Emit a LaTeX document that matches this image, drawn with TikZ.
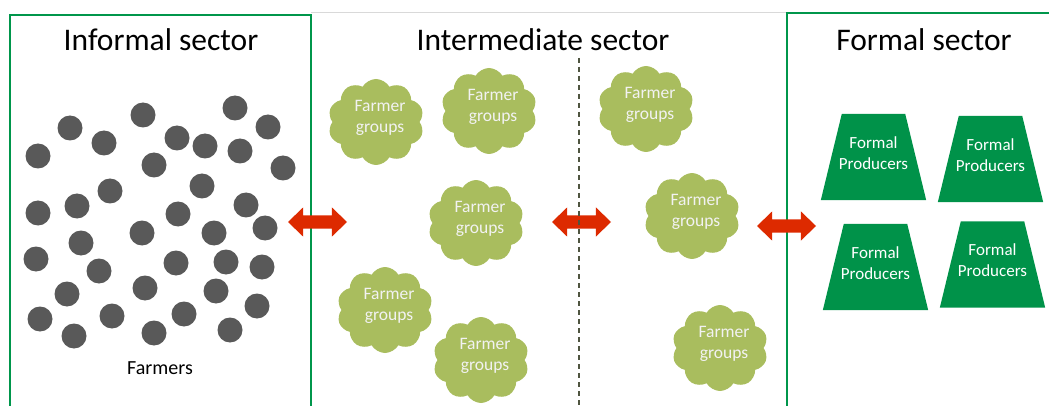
\documentclass[tikz,border=0pt]{standalone}
\usepackage{fontspec}
\setmainfont{Carlito}
\usetikzlibrary{shapes.symbols,shapes.arrows}
\definecolor{sectgreen}{HTML}{00964B}
\definecolor{prodgreen}{HTML}{009249}
\definecolor{cloudgreen}{HTML}{A9BD5E}
\definecolor{dotgray}{HTML}{595959}
\definecolor{arrowred}{HTML}{DD2A00}
\definecolor{dashgray}{HTML}{4F5540}
\definecolor{boxgray}{HTML}{D9D9D9}
\tikzset{
  title/.style={font=\fontsize{31.5}{38}\selectfont, text=black, inner sep=0pt, anchor=base},
  cloudbox/.style={cloud, cloud puffs=10, cloud puff arc=120, aspect=1.1, fill=cloudgreen, draw=none,
    minimum width=96pt, minimum height=86pt, inner sep=0pt},
  cloudtext/.style={font=\fontsize{17.5}{21.5}\selectfont, text=white!95!black, align=center, inner sep=0pt},
  prodbox/.style={minimum width=105pt, minimum height=86pt, inner sep=0pt},
  prodtext/.style={font=\fontsize{17}{21}\selectfont, text=white, align=center, inner sep=0pt},
  bigarrow/.style={double arrow, fill=arrowred, draw=none, inner xsep=0pt, inner ysep=6.5pt,
    minimum height=59pt, double arrow head extend=8pt, double arrow tip angle=88},
}
\begin{document}
\begin{tikzpicture}[x=1pt,y=-1pt]
\useasboundingbox (0,0) rectangle (1049,406);
% sector frames
\draw[boxgray, line width=1pt] (311,13) -- (787,13);
\draw[sectgreen, line width=2.8pt] (10,410) -- (10,15) -- (311,15) -- (311,410);
\draw[sectgreen, line width=2.8pt] (787,410) -- (787,13) -- (1052,13);
% titles
\node[title] (t1) at (161,51) {Informal sector};
\node[title] (t2) at (543,51) {Intermediate sector};
\node[title] (t3) at (924,51) {Formal sector};
% farmers
\foreach \x/\y in {38/156, 70/128, 104/143, 143/115, 177/138, 205/146, 235/108, 268/127,
  240/151, 154/165, 283/168, 38/213, 77/206, 110/191, 202/186, 178/214, 246/205, 142/233,
  214/233, 265/228, 81/243, 36/259, 99/271, 176/263, 226/262, 262/267, 67/294, 145/288,
  216/291, 40/319, 112/316, 184/314, 257/306, 74/336, 154/333, 230/330}
  \fill[dotgray] (\x,\y) circle (12.5);
\node[font=\fontsize{20}{24}\selectfont, inner sep=0pt] (farmers) at (160,368) {Farmers};
% farmer groups
\foreach \n/\x/\y in {1/376/122, 2/489/111, 3/646/109, 4/476/223, 5/692/216, 6/385/310, 7/481/360, 8/720/348}{
  \node[cloudbox] (c\n) at (\x,\y) {};
  \node[cloudtext] (c\n t) at ([xshift=4pt,yshift=4pt]c\n.center) {Farmer\\groups};
}
% formal producers
\foreach \n/\x/\y in {1/873.5/157, 2/990.5/159, 3/875.5/267, 4/992.5/264.5}{
  \node[prodbox] (p\n) at (\x,\y) {};
  \fill[prodgreen] (p\n.south west) -- (p\n.south east) -- ([xshift=-21pt]p\n.north east)
    -- ([xshift=21pt]p\n.north west) -- cycle;
  \node[prodtext] (p\n t) at ([yshift=4pt]p\n.center) {Formal\\Producers};
}
% arrows
\node[bigarrow] (a1) at (317.5,222) {};
\node[bigarrow] (a2) at (581.5,222) {};
\node[bigarrow] (a3) at (786.5,226) {};
% dashed divider
\coordinate (dtop) at (579,58);
\coordinate (dbot) at (579,408);
\draw[dashgray, line width=1.1pt, dash pattern=on 5pt off 4pt] (dtop) -- (dbot);
\end{tikzpicture}
\end{document}
